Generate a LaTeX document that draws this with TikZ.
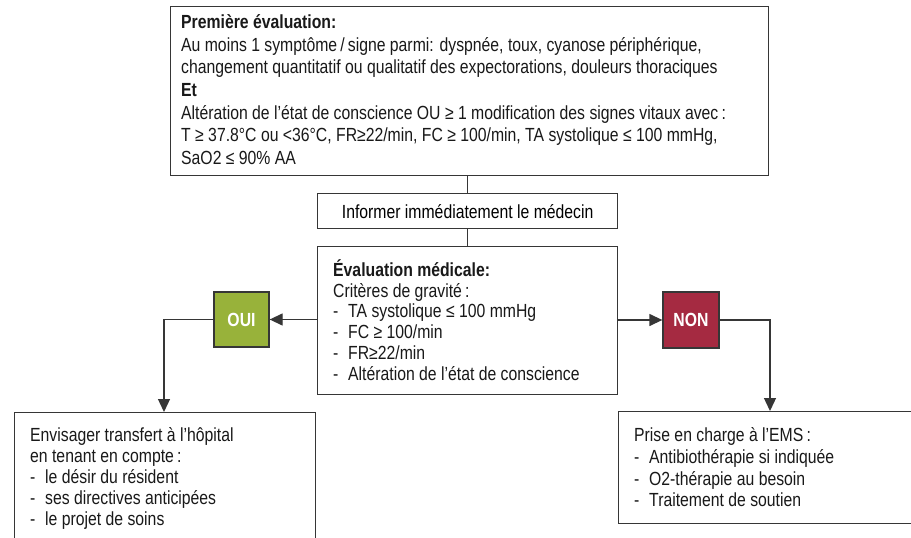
\documentclass[tikz,border=0pt]{standalone}
\usepackage{fontspec}
\setmainfont[FakeStretch=0.83]{Liberation Sans}
\usetikzlibrary{arrows.meta}

\definecolor{linegray}{HTML}{363636}
\definecolor{ouigreen}{HTML}{98B23A}
\definecolor{nonred}{HTML}{A52A41}

% first line strut: fixes the distance from the node top to the first baseline
\newcommand\firstln{\rule{0pt}{18pt}}
% list dash with hanging indent
\newcommand\dashitem{\makebox[15pt][l]{-}}
% body font with a fixed line pitch
\newcommand\bodyfont[1]{\fontsize{19}{#1}\selectfont\lineskiplimit=-100pt\relax}

\tikzset{
  frame/.style={draw=linegray, line width=1.3pt, fill=white, inner sep=0pt, anchor=north west},
  body/.style={inner sep=0pt, anchor=north west, align=left, text=black!90},
  loose/.style={font=\bodyfont{20.8}},
  answer/.style={draw=linegray, line width=1.3pt, inner sep=0pt, text=white,
    font=\fontsize{19}{19}\selectfont\bfseries},
  link/.style={draw=linegray, line width=1.3pt},
  arrow/.style={link, -{Triangle[length=13pt, width=12pt]}}
}

\begin{document}
\begin{tikzpicture}[x=1pt, y=-1pt]
  \clip (0,0) rectangle (911,538);

  % boxes
  \node[frame, minimum width=598pt, minimum height=169pt] (first) at (170,6) {};
  \node[frame, minimum width=300pt, minimum height=35pt, loose] (inform) at (317,193)
    {Informer imm\'ediatement le m\'edecin};
  \node[frame, minimum width=300pt, minimum height=148pt] (medical) at (317,246) {};
  \node[answer, fill=ouigreen, minimum width=55pt, minimum height=55pt] (oui) at (241.5,319.5) {OUI};
  \node[answer, fill=nonred, minimum width=56pt, minimum height=56pt] (non) at (691,320) {NON};
  \node[frame, minimum width=301pt, minimum height=160pt] (hospital) at (14,412) {};
  \node[frame, minimum width=400pt, minimum height=112pt] (ems) at (618,411) {};

  % box texts
  \node[body, font=\bodyfont{22.6}] (firsttext) at (181,10.5) {%
    \firstln\textbf{Premi\`ere \'evaluation:}\\
    Au moins 1 sympt\^ome\,/\,signe parmi: dyspn\'ee, toux, cyanose p\'eriph\'erique,\\
    changement quantitatif ou qualitatif des expectorations, douleurs thoraciques\\
    \textbf{Et}\\
    Alt\'eration de l’\'etat de conscience OU ≥ 1 modification des signes vitaux avec\,:\\
    T ≥ 37.8°C ou <36°C, FR≥22/min, FC ≥ 100/min, TA systolique ≤ 100 mmHg,\\
    SaO2 ≤ 90\% AA};

  \node[body, loose] (medicaltext) at (333,258) {%
    \firstln\textbf{\'Evaluation m\'edicale:}\\
    Crit\`eres de gravit\'e\,:\\
    \dashitem TA systolique ≤ 100 mmHg\\
    \dashitem FC ≥ 100/min\\
    \dashitem FR≥22/min\\
    \dashitem Alt\'eration de l’\'etat de conscience};

  \node[body, loose] (hospitaltext) at (30,423.7) {%
    \firstln Envisager transfert \`a l’h\^opital\\
    en tenant en compte\,:\\
    \dashitem le d\'esir du r\'esident\\
    \dashitem ses directives anticip\'ees\\
    \dashitem le projet de soins};

  \node[body, font=\bodyfont{21.6}] (emstext) at (634,423.7) {%
    \firstln Prise en charge \`a l’EMS\,:\\
    \dashitem Antibioth\'erapie si indiqu\'ee\\
    \dashitem O2-th\'erapie au besoin\\
    \dashitem Traitement de soutien};

  % connectors
  \draw[link] (inform.north |- first.south) -- (inform.north);
  \draw[link] (inform.south) -- (medical.north);
  \draw[arrow] (medical.west |- oui.east) -- (oui.east);
  \draw[arrow] (medical.east |- non.west) -- (non.west);

  \coordinate (ouiturn) at (164,319.5);
  \coordinate (nonturn) at (770,320);
  \draw[arrow] (oui.west) -- (ouiturn) -- (ouiturn |- hospital.north);
  \draw[arrow] (non.east) -- (nonturn) -- (nonturn |- ems.north);
\end{tikzpicture}
\end{document}
